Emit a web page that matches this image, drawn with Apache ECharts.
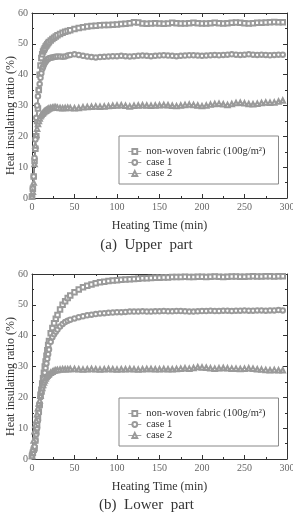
<!DOCTYPE html>
<html>
<head>
<meta charset="utf-8">
<title>Heat insulating ratio</title>
<script src="https://cdn.jsdelivr.net/npm/echarts@6/dist/echarts.min.js"></script>
<style>
  html, body { margin: 0; padding: 0; background: #fff; }
  #main { width: 293px; height: 518px; }
</style>
</head>
<body>
<div id="main"></div>
<script type="text/javascript">
// heating time (min)
var times = [0,1,2,3,4,5,6,7,8,9,10,11,12,13,14,15,16,17,18,19,20,
  22,24,26,28,30,33,36,39,42,45,
  50,55,60,65,70,75,80,85,90,95,100,105,110,115,120,125,130,135,140,145,
  150,155,160,165,170,175,180,185,190,195,200,205,210,215,220,225,230,235,240,245,
  250,255,260,265,270,275,280,285,290,295];

var seriesNames = ['non-woven fabric (100g/m\u00b2)', 'case 1', 'case 2'];
var symbols = ['emptyRect', 'emptyCircle', 'emptyTriangle'];

// (a) upper part
var upperFabric = [0.5,3,7,12,16,20,25,29,35,40,43,45.4,46.6,47.5,48.1,48.6,49.1,49.5,49.9,50.3,50.6,
  51.1,51.6,52.0,52.4,52.8,53.2,53.6,53.9,54.2,54.4,
  54.8,55.1,55.4,55.6,55.8,55.9,56.0,56.1,56.1,56.2,56.3,56.4,56.5,56.7,57.0,56.9,56.6,56.5,56.6,56.7,
  56.6,56.5,56.6,56.8,56.7,56.6,56.6,56.7,56.8,56.7,56.6,56.6,56.7,56.8,56.7,56.6,56.7,56.8,56.9,56.8,
  56.7,56.6,56.7,56.8,56.8,56.9,57.0,57.1,57.0,57.0];
var upperCase1 = [0.5,3,7,13,19,26,30,33,35,37,39,40.5,41.8,42.5,43.2,43.8,44.2,44.6,44.9,45.1,45.3,
  45.5,45.6,45.7,45.8,45.9,45.9,45.8,45.9,46.2,46.4,
  46.6,46.4,46.1,45.9,45.7,45.6,45.7,45.8,45.9,46.0,46.0,46.1,46.0,45.9,46.0,46.1,46.2,46.1,46.0,46.1,
  46.2,46.3,46.2,46.1,46.0,46.1,46.2,46.3,46.3,46.2,46.1,46.2,46.3,46.4,46.3,46.4,46.5,46.6,46.5,46.4,
  46.5,46.6,46.5,46.4,46.5,46.4,46.3,46.4,46.5,46.5];
var upperCase2 = [0.5,2,5,11,17,20.5,22.5,24,25,25.8,26.5,26.9,27.3,27.6,27.9,28.1,28.3,28.5,28.7,28.9,29.0,
  29.2,29.3,29.4,29.4,29.3,29.2,29.1,29.2,29.3,29.2,
  29.1,29.2,29.4,29.5,29.6,29.7,29.6,29.7,29.8,29.9,30.0,30.1,29.9,29.7,29.9,30.0,30.1,30.0,29.9,30.0,
  30.1,30.2,30.1,29.9,29.8,30.0,30.2,30.3,30.2,30.0,29.8,30.0,30.3,30.5,30.6,30.4,30.2,30.5,30.8,30.9,
  30.7,30.5,30.4,30.6,30.8,31.0,30.9,31.0,31.3,31.6];

// (b) lower part
var lowerFabric = [1,2,3,3.5,6,8.9,11,13.5,15.4,17.5,20.8,22.5,24.5,26.2,28,30,31.6,33.5,35.3,37,38.3,
  40.8,42.5,44,45.5,46.7,48.5,50,51.2,52.2,53,
  54.1,55.0,55.7,56.2,56.6,57.0,57.3,57.5,57.7,57.9,58.0,58.1,58.2,58.3,58.4,58.5,58.6,58.6,58.7,58.8,
  58.8,58.9,58.9,59.0,59.0,59.0,59.1,59.0,59.0,59.1,59.1,59.0,59.1,59.2,59.1,59.0,59.1,59.2,59.2,59.1,
  59.1,59.2,59.3,59.2,59.2,59.3,59.3,59.2,59.3,59.3];
var lowerCase1 = [1,2,3,4,6,8,10,12.5,15,17.5,20,21.5,23,24.5,26,28,29.5,31,32.5,34,35.5,
  38,39.5,40.5,41.3,42,43,43.8,44.4,44.8,45.2,
  45.6,46.0,46.3,46.6,46.8,47.0,47.2,47.3,47.4,47.5,47.6,47.6,47.7,47.8,47.8,47.8,47.9,47.8,47.8,47.9,
  47.9,48.0,47.9,47.9,48.0,48.0,47.9,47.8,47.8,47.9,48.0,48.0,48.1,48.0,48.0,48.1,48.1,48.0,48.1,48.1,
  48.2,48.1,48.1,48.2,48.2,48.1,48.2,48.2,48.3,48.2];
var lowerCase2 = [1,3,6,9,11,12.5,14.5,16.5,18,19,20.5,22,23,24,24.8,25.5,26.1,26.6,27,27.3,27.6,
  28,28.3,28.6,28.8,28.9,29.0,29.1,29.1,29.1,29.2,
  29.2,29.1,29.0,29.1,29.2,29.1,29.0,29.1,29.2,29.1,29.0,29.1,29.1,29.2,29.1,29.0,29.1,29.2,29.2,29.1,
  29.1,29.2,29.1,29.1,29.2,29.3,29.4,29.3,29.5,29.8,29.7,29.6,29.4,29.3,29.4,29.5,29.4,29.3,29.3,29.2,
  29.3,29.4,29.3,29.1,29.0,28.9,28.8,28.9,28.8,28.8];

var serif = 'Liberation Serif';
var axisColor = '#333';

function pairs(vals) {
  return times.map(function (t, i) { return [t, vals[i]]; });
}

function xAx(grid, top) {
  return {
    type: 'value', gridIndex: grid, min: 0, max: 300, interval: 50,
    position: top ? 'top' : 'bottom',
    name: top ? '' : 'Heating Time (min)',
    nameLocation: 'middle', nameGap: 22, nameMoveOverlap: false,
    nameTextStyle: { fontFamily: serif, fontSize: 12, color: '#333' },
    axisLine: { show: true, onZero: false, lineStyle: { color: axisColor, width: 1 } },
    axisTick: { show: true, inside: true, length: 4, lineStyle: { color: axisColor } },
    minorTick: { show: true, splitNumber: 2, length: 2, lineStyle: { color: axisColor } },
    axisLabel: { show: !top, fontFamily: serif, fontSize: 10, color: '#666', margin: 4 },
    splitLine: { show: false }
  };
}

function yAx(grid, right) {
  return {
    type: 'value', gridIndex: grid, min: 0, max: 60, interval: 10,
    position: right ? 'right' : 'left',
    name: right ? '' : 'Heat insulating ratio (%)',
    nameLocation: 'middle', nameGap: 15, nameMoveOverlap: false,
    nameTextStyle: { fontFamily: serif, fontSize: 12, color: '#333', padding: [0, 20, 0, 0] },
    axisLine: { show: true, onZero: false, lineStyle: { color: axisColor, width: 1 } },
    axisTick: { show: true, inside: true, length: 4, lineStyle: { color: axisColor } },
    minorTick: { show: true, splitNumber: 2, length: 2, lineStyle: { color: axisColor } },
    axisLabel: { show: !right, fontFamily: serif, fontSize: 10, color: '#666', margin: 4 },
    splitLine: { show: false }
  };
}

function mkSeries(name, vals, idx, grid) {
  return {
    name: name,
    type: 'line',
    xAxisIndex: grid * 2,
    yAxisIndex: grid * 2,
    data: pairs(vals),
    symbol: symbols[idx],
    symbolSize: 4.5,
    showAllSymbol: true,
    itemStyle: { color: '#9a9a9a', borderWidth: 0.7 },
    lineStyle: { color: '#666', width: 0.7 },
    emphasis: { disabled: true },
    animation: false
  };
}

function mkLegend(top) {
  return {
    data: seriesNames,
    orient: 'vertical',
    left: 119, top: top,
    padding: [10, 13, 5, 9],
    itemGap: 0,
    itemWidth: 13, itemHeight: 6,
    borderColor: '#888', borderWidth: 1,
    itemStyle: { borderWidth: 0.6 },
    lineStyle: { width: 0.6 },
    textStyle: { fontFamily: serif, fontSize: 10.5, lineHeight: 10.5, color: '#333' }
  };
}

var myChart = echarts.init(document.getElementById('main'));

var option = {
  backgroundColor: '#fff',
  animation: false,
  title: [
    { text: '(a)  Upper  part', left: 'center', top: 233,
      textStyle: { fontFamily: serif, fontSize: 15, fontWeight: 'normal', color: '#333' } },
    { text: '(b)  Lower  part', left: 'center', top: 493,
      textStyle: { fontFamily: serif, fontSize: 15, fontWeight: 'normal', color: '#333' } }
  ],
  grid: [
    { left: 32, right: 6, top: 13, height: 185, outerBoundsMode: 'none' },
    { left: 32, right: 6, top: 274, height: 185, outerBoundsMode: 'none' }
  ],
  legend: [
    Object.assign(mkLegend(136), { seriesIndex: [0, 1, 2] }),
    Object.assign(mkLegend(398), { seriesIndex: [3, 4, 5] })
  ],
  xAxis: [xAx(0, false), xAx(0, true), xAx(1, false), xAx(1, true)],
  yAxis: [yAx(0, false), yAx(0, true), yAx(1, false), yAx(1, true)],
  series: [
    mkSeries(seriesNames[0], upperFabric, 0, 0),
    mkSeries(seriesNames[1], upperCase1, 1, 0),
    mkSeries(seriesNames[2], upperCase2, 2, 0),
    mkSeries(seriesNames[0], lowerFabric, 0, 1),
    mkSeries(seriesNames[1], lowerCase1, 1, 1),
    mkSeries(seriesNames[2], lowerCase2, 2, 1)
  ]
};

myChart.setOption(option);
</script>
</body>
</html>
